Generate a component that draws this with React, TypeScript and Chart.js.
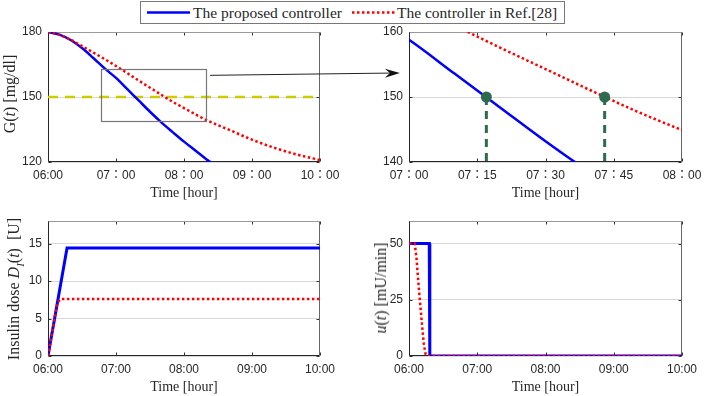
import React, { useEffect, useRef } from "react";
import { Chart, registerables } from "chart.js";
Chart.register(...registerables);

// ---------------- data ----------------
const glucoseTimes = [0, 10, 20, 30, 40, 50, 60, 70, 80, 90, 100, 110, 120, 130, 140, 150];
const glucoseProposed = [180, 178.8, 176.3, 172.6, 168, 163.2, 158.8, 153.6, 148.4, 143.2, 138.3, 133.8, 129.4, 125.3, 121.2, 117.5];
const glucoseRefTimes = [0, 10, 20, 30, 40, 50, 60, 70, 80, 90, 100, 110, 120, 130, 140, 160, 180, 200, 220, 240];
const glucoseRef = [180, 178.8, 176.4, 173.5, 170.5, 167.5, 164.3, 161, 157.6, 154.3, 151, 147.8, 144.9, 142, 139.3, 134.8, 130.3, 126.5, 123.4, 120.9];
const targetTimes = [0, 240];
const targetLevel = [150, 150];
const crossingTimes = [77, 103];
const crossingLevel = [150, 150];
const crossingFloor = [140, 140];
const doseProposedTimes = [0, 16.8, 240];
const doseProposed = [0, 14.4, 14.4];
const doseRefTimes = [0, 7.5, 9, 10.5, 12, 240];
const doseRef = [0, 6.5, 7.2, 7.5, 7.6, 7.6];
const infusionProposedTimes = [0, 17.8, 18.3, 240];
const infusionProposed = [50, 50, 0, 0];
const infusionRefTimes = [0, 5, 6.5, 8, 9.5, 11.5, 13, 14.5, 15.5, 240];
const infusionRef = [50, 50, 44, 34, 25, 13.5, 5.5, 1, 0, 0];

const fullTicks = [0, 60, 120, 180, 240];
const fullTickLabelsTop = ["06:00", "07：00", "08：00", "09：00", "10：00"];
const fullTickLabelsBottom = ["06:00", "07:00", "08:00", "09:00", "10:00"];
const zoomTicks = [60, 75, 90, 105, 120];
const zoomTickLabels = ["07：00", "07：15", "07：30", "07：45", "08：00"];
const glucoseTicks = [120, 150, 180];
const zoomGlucoseTicks = [140, 150, 160];
const doseTicks = [0, 5, 10, 15];
const infusionTicks = [0, 25, 50];
const zoomBoxTime = [47, 140];
const zoomBoxLevel = [139, 163];
const arrowFromLevel = 160;
const arrowToTime = 58;
const arrowToLevel = 153.7;

const legendLabels = ["The proposed controller", "The controller in Ref.[28]"];

// ---------------- styles ----------------
const BLUE = "#0000FF";
const RED = "#FF0000";
const YELLOW = "#CCCC00";
const GREEN = "#2E6B4E";
const GRID = "#d9d9d9";
const TEXT = "#262626";
const SANS = '"Liberation Sans", "Noto Sans CJK TC", Arial, sans-serif';
const SERIF = '"Liberation Serif", "DejaVu Serif", serif';

const pts = (xs: number[], ys: number[]) => xs.map((x, i) => ({ x, y: ys[i] }));

const framePlugin = {
  id: "frame",
  beforeDatasetsDraw(chart: any) {
    const { ctx, chartArea: a, scales } = chart;
    const L = Math.round(a.left) + 0.5;
    const R = Math.round(a.right) - 0.5;
    const T = Math.round(a.top) + 0.5;
    const B = Math.round(a.bottom) - 0.5;
    ctx.save();
    ctx.lineWidth = 1;
    ctx.strokeStyle = "#333";
    ctx.beginPath();
    scales.x.ticks.forEach((t: any) => {
      const px = Math.round(scales.x.getPixelForValue(t.value)) + 0.5;
      ctx.moveTo(px, B);
      ctx.lineTo(px, B - 3);
      ctx.moveTo(px, T);
      ctx.lineTo(px, T + 3);
    });
    scales.y.ticks.forEach((t: any) => {
      const py = Math.round(scales.y.getPixelForValue(t.value)) + 0.5;
      ctx.moveTo(L, py);
      ctx.lineTo(L + 3, py);
      ctx.moveTo(R, py);
      ctx.lineTo(R - 3, py);
    });
    ctx.stroke();
    ctx.strokeStyle = "#9a9a9a";
    ctx.beginPath();
    ctx.moveTo(L, T);
    ctx.lineTo(R, T);
    ctx.stroke();
    ctx.strokeStyle = "#666";
    ctx.beginPath();
    ctx.moveTo(R, T);
    ctx.lineTo(R, B);
    ctx.stroke();
    ctx.strokeStyle = "#262626";
    ctx.beginPath();
    ctx.moveTo(L, T);
    ctx.lineTo(L, B);
    ctx.lineTo(R, B);
    ctx.stroke();
    ctx.restore();
  },
};

const zoomBoxPlugin = {
  id: "zoomBox",
  afterDatasetsDraw(chart: any) {
    const { ctx, scales } = chart;
    const x0 = scales.x.getPixelForValue(zoomBoxTime[0]);
    const x1 = scales.x.getPixelForValue(zoomBoxTime[1]);
    const y0 = scales.y.getPixelForValue(zoomBoxLevel[1]);
    const y1 = scales.y.getPixelForValue(zoomBoxLevel[0]);
    ctx.save();
    ctx.strokeStyle = "#777";
    ctx.lineWidth = 1.2;
    ctx.strokeRect(Math.round(x0) + 0.5, Math.round(y0) + 0.5, Math.round(x1 - x0), Math.round(y1 - y0));
    ctx.restore();
  },
};

type Spec = {
  left: number; top: number; width: number; height: number;
  yAxisWidth: number; padRight: number;
  xMin: number; xMax: number; xTicks: number[]; xLabels: string[];
  yMin: number; yMax: number; yTicks: number[];
  datasets: any[]; plugins?: any[];
};

const redLine = (data: any[], width = 2.5) => ({
  data, borderColor: RED, borderWidth: width, borderDash: [2.5, 2.5], pointRadius: 0, fill: false,
});
const blueLine = (data: any[], width = 2.5) => ({
  data, borderColor: BLUE, borderWidth: width, pointRadius: 0, fill: false,
});

function makeSpecs(): Spec[] {
  return [
    {
      left: 0, top: 16, width: 360, height: 186, yAxisWidth: 48, padRight: 40,
      xMin: 0, xMax: 240, xTicks: fullTicks, xLabels: fullTickLabelsTop,
      yMin: 120, yMax: 180, yTicks: glucoseTicks,
      datasets: [
        { ...redLine(pts(glucoseRefTimes, glucoseRef)), cubicInterpolationMode: "monotone" },
        { ...blueLine(pts(glucoseTimes, glucoseProposed)), cubicInterpolationMode: "monotone" },
        { data: pts(targetTimes, targetLevel), borderColor: YELLOW, borderWidth: 2.5, borderDash: [10, 7], pointRadius: 0 },
      ],
      plugins: [zoomBoxPlugin],
    },
    {
      left: 360, top: 16, width: 360, height: 186, yAxisWidth: 49, padRight: 38,
      xMin: 60, xMax: 120, xTicks: zoomTicks, xLabels: zoomTickLabels,
      yMin: 140, yMax: 160, yTicks: zoomGlucoseTicks,
      datasets: [
        { data: pts(crossingTimes, crossingLevel), showLine: false, pointRadius: 5.5, pointBackgroundColor: GREEN, pointBorderWidth: 0, borderColor: GREEN },
        { data: pts([crossingTimes[0], crossingTimes[0]], [crossingLevel[0], crossingFloor[0]]), borderColor: GREEN, borderWidth: 3, borderDash: [8, 6], pointRadius: 0 },
        { data: pts([crossingTimes[1], crossingTimes[1]], [crossingLevel[1], crossingFloor[1]]), borderColor: GREEN, borderWidth: 3, borderDash: [8, 6], pointRadius: 0 },
        { ...redLine(pts(glucoseRefTimes, glucoseRef)), cubicInterpolationMode: "monotone" },
        { ...blueLine(pts(glucoseTimes, glucoseProposed)), cubicInterpolationMode: "monotone" },
      ],
    },
    {
      left: 0, top: 205, width: 360, height: 191, yAxisWidth: 48, padRight: 40,
      xMin: 0, xMax: 240, xTicks: fullTicks, xLabels: fullTickLabelsBottom,
      yMin: 0, yMax: 18, yTicks: doseTicks,
      datasets: [
        redLine(pts(doseRefTimes, doseRef)),
        blueLine(pts(doseProposedTimes, doseProposed), 3),
      ],
    },
    {
      left: 360, top: 205, width: 360, height: 191, yAxisWidth: 49, padRight: 38,
      xMin: 0, xMax: 240, xTicks: fullTicks, xLabels: fullTickLabelsBottom,
      yMin: 0, yMax: 60, yTicks: infusionTicks,
      datasets: [
        redLine(pts(infusionRefTimes, infusionRef)),
        blueLine(pts(infusionProposedTimes, infusionProposed), 3),
      ],
    },
  ];
}

function buildConfig(s: Spec): any {
  return {
    type: "line",
    data: { datasets: s.datasets },
    options: {
      animation: false,
      responsive: false,
      devicePixelRatio: 1,
      layout: { padding: { left: 0, top: 16, right: s.padRight, bottom: 0 } },
      plugins: { legend: { display: false }, tooltip: { enabled: false }, title: { display: false } },
      elements: { point: { radius: 0 }, line: { tension: 0 } },
      scales: {
        x: {
          type: "linear", min: s.xMin, max: s.xMax,
          afterBuildTicks: (sc: any) => { sc.ticks = s.xTicks.map((v) => ({ value: v })); },
          afterFit: (sc: any) => { sc.height = 40; },
          ticks: {
            autoSkip: false, maxRotation: 0, minRotation: 0, padding: 6, color: TEXT,
            font: { family: SANS, size: 12 },
            callback: (v: any) => { const i = s.xTicks.indexOf(Number(v)); return i >= 0 ? s.xLabels[i] : ""; },
          },
          grid: { display: false, drawTicks: false },
          border: { display: false },
          title: { display: true, text: "Time [hour]", color: TEXT, font: { family: SERIF, size: 14 }, padding: 0 },
        },
        y: {
          type: "linear", min: s.yMin, max: s.yMax,
          afterBuildTicks: (sc: any) => { sc.ticks = s.yTicks.map((v) => ({ value: v })); },
          afterFit: (sc: any) => { sc.width = s.yAxisWidth; },
          ticks: { padding: 6, color: TEXT, font: { family: SANS, size: 12 }, callback: (v: any) => String(v) },
          grid: { color: GRID, drawTicks: false, lineWidth: 1 },
          border: { display: false },
        },
      },
    },
    plugins: [framePlugin, ...(s.plugins || [])],
  };
}

const yTitleStyle = (cx: number, cy: number): React.CSSProperties => ({
  position: "absolute", left: cx, top: cy,
  transform: "translate(-50%, -50%) rotate(-90deg)",
  whiteSpace: "nowrap", fontFamily: SERIF, fontSize: 16, color: TEXT, lineHeight: "18px",
});

export default function App() {
  const r0 = useRef<HTMLCanvasElement>(null);
  const r1 = useRef<HTMLCanvasElement>(null);
  const r2 = useRef<HTMLCanvasElement>(null);
  const r3 = useRef<HTMLCanvasElement>(null);
  const overlayRef = useRef<HTMLCanvasElement>(null);
  const refs = [r0, r1, r2, r3];
  const layout = makeSpecs();

  useEffect(() => {
    const specs = makeSpecs();
    const charts = specs.map((s, i) => new Chart(refs[i].current as HTMLCanvasElement, buildConfig(s)));
    const ov = overlayRef.current as HTMLCanvasElement;
    const ctx = ov.getContext("2d") as CanvasRenderingContext2D;
    ctx.clearRect(0, 0, ov.width, ov.height);
    const c1: any = charts[0];
    const c2: any = charts[1];
    const sx = specs[0].left + c1.scales.x.getPixelForValue(zoomBoxTime[1]) + 3.5;
    const sy = specs[0].top + c1.scales.y.getPixelForValue(arrowFromLevel);
    const ex = specs[1].left + c2.scales.x.getPixelForValue(arrowToTime);
    const ey = specs[1].top + c2.scales.y.getPixelForValue(arrowToLevel);
    const ang = Math.atan2(ey - sy, ex - sx);
    const ux = Math.cos(ang), uy = Math.sin(ang);
    const nx = -uy, ny = ux;
    ctx.save();
    ctx.strokeStyle = "#222";
    ctx.lineWidth = 1;
    ctx.beginPath();
    ctx.moveTo(sx, sy);
    ctx.lineTo(ex - 10 * ux, ey - 10 * uy);
    ctx.stroke();
    ctx.fillStyle = "#111";
    ctx.beginPath();
    ctx.moveTo(ex, ey);
    ctx.lineTo(ex - 15 * ux + 4.5 * nx, ey - 15 * uy + 4.5 * ny);
    ctx.lineTo(ex - 10 * ux, ey - 10 * uy);
    ctx.lineTo(ex - 15 * ux - 4.5 * nx, ey - 15 * uy - 4.5 * ny);
    ctx.closePath();
    ctx.fill();
    ctx.restore();
    return () => charts.forEach((c) => c.destroy());
  }, []);

  return (
    <div style={{ position: "absolute", left: 0, top: 0, width: 705, height: 396, overflow: "hidden", background: "#fff" }}>
      {layout.map((s, i) => (
        <canvas key={i} ref={refs[i]} width={s.width} height={s.height}
          style={{ position: "absolute", left: s.left, top: s.top, width: s.width, height: s.height }} />
      ))}
      <canvas ref={overlayRef} width={705} height={396}
        style={{ position: "absolute", left: 0, top: 0, width: 705, height: 396, pointerEvents: "none" }} />
      <div style={{
        position: "absolute", left: 140, top: 1, width: 425, height: 23, boxSizing: "border-box",
        border: "1px solid #777", background: "#fff", fontFamily: SERIF, fontSize: 15.5, color: TEXT,
      }}>
        <svg width={423} height={21} style={{ position: "absolute", left: 0, top: 0 }}>
          <line x1={6} x2={49} y1={10.5} y2={10.5} stroke={BLUE} strokeWidth={2.5} />
          <line x1={211} x2={254} y1={10.5} y2={10.5} stroke={RED} strokeWidth={2.5} strokeDasharray="2.5 2.5" />
        </svg>
        <span style={{ position: "absolute", left: 52, top: 0, lineHeight: "21px", whiteSpace: "nowrap" }}>{legendLabels[0]}</span>
        <span style={{ position: "absolute", left: 256, top: 0, lineHeight: "21px", whiteSpace: "nowrap" }}>{legendLabels[1]}</span>
      </div>
      <div style={yTitleStyle(10, 94)}>G(<i>t</i>) [mg/dl]</div>
      <div style={yTitleStyle(16.5, 289)}>Insulin dose <i>D</i><sub style={{ fontSize: 11 }}><i>I</i></sub>(<i>t</i>)&nbsp;&nbsp;[U]</div>
      <div style={yTitleStyle(380.5, 288)}><i>u</i>(<i>t</i>) [mU/min]</div>
    </div>
  );
}
